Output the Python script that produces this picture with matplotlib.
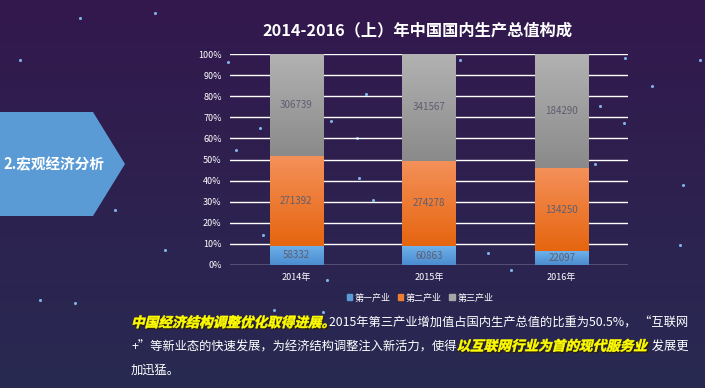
import numpy as np
import matplotlib
matplotlib.use("Agg")
import matplotlib.pyplot as plt
from matplotlib.patches import Polygon, Patch, PathPatch
from matplotlib.textpath import TextPath
from matplotlib.font_manager import FontProperties
from matplotlib.transforms import Affine2D

plt.rcParams['font.family'] = ['Noto Sans CJK SC', 'DejaVu Sans']

# 数据
years = ['2014年', '2015年', '2016年']
primary = [58332, 60863, 22097]
secondary = [271392, 274278, 134250]
tertiary = [306739, 341567, 184290]
series_names = ['第一产业', '第二产业', '第三产业']
ytick_labels = ['0%', '10%', '20%', '30%', '40%', '50%', '60%', '70%', '80%', '90%', '100%']

# 背景上的小星星 (像素位置)
stars = [(80, 18), (155, 13), (228, 62), (236, 150), (260, 128), (263, 235),
         (331, 121), (357, 138), (359, 178), (366, 94), (373, 200), (327, 280),
         (460, 60), (488, 253), (511, 270), (595, 164), (600, 106), (625, 58),
         (624, 123), (652, 86), (683, 185), (680, 245), (700, 60), (274, 310),
         (323, 312), (115, 210), (165, 250), (40, 300), (75, 303), (20, 60)]

W, H = 705, 388
DPI = 100
fig = plt.figure(figsize=(W / DPI, H / DPI), dpi=DPI)

# 渐变背景
bg = fig.add_axes([0, 0, 1, 1], zorder=-10)
top_c = np.array([51, 24, 77]) / 255
bot_c = np.array([40, 42, 82]) / 255
t = np.linspace(0, 1, 256)[:, None]
grad = top_c[None, :] * (1 - t) + bot_c[None, :] * t
bg.imshow(np.repeat(grad[:, None, :], 2, axis=1), aspect='auto', extent=[0, W, H, 0])
xs, ys = zip(*stars)
bg.scatter(xs, ys, s=5, color='#7fb2e5', linewidths=0)
bg.set_xlim(0, W)
bg.set_ylim(H, 0)
bg.axis('off')

# 左侧箭头
arrow = Polygon([(0, 112), (93, 112), (125, 164), (93, 216), (0, 216)],
                closed=True, facecolor='#5b9bd5', edgecolor='none')
bg.add_patch(arrow)
bg.text(3, 164, '2.宏观经济分析', color='white', fontsize=10.5, fontweight='bold',
        va='center', ha='left')

# 标题
bg.text(417, 30, '2014-2016（上）年中国国内生产总值构成', color='white',
        fontsize=11.7, fontweight='bold', ha='center', va='center')

# 图表
ax = fig.add_axes([230 / W, 1 - 265 / H, 398 / W, 211 / H])
ax.set_facecolor('none')
data = np.array([primary, secondary, tertiary], dtype=float)
share = data / data.sum(axis=0)
x = np.arange(len(years))

grads = [('#6fb1ea', '#4a8ccf'), ('#f4915a', '#e6650f'), ('#b2b2b2', '#8a8a8a')]
bottom = np.zeros(len(years))
for i in range(3):
    bars = ax.bar(x, share[i], 0.4, bottom=bottom, color=grads[i][1], zorder=3)
    c1 = np.array(matplotlib.colors.to_rgb(grads[i][0]))
    c2 = np.array(matplotlib.colors.to_rgb(grads[i][1]))
    for j, b in enumerate(bars):
        bb = b.get_bbox()
        g = c1[None, :] * (1 - t) + c2[None, :] * t
        im = ax.imshow(np.repeat(g[:, None, :], 2, axis=1), aspect='auto',
                       extent=[bb.x0, bb.x1, bb.y0, bb.y1], zorder=3.5)
        im.set_clip_path(b)
        ax.text(x[j], bottom[j] + share[i][j] / 2, str(int(data[i][j])),
                ha='center', va='center', fontsize=7, color='#5e5e70', zorder=5)
    bottom += share[i]

ax.set_xlim(-0.5, 2.5)
ax.set_ylim(0, 1)
ax.set_yticks(np.linspace(0, 1, 11))
ax.set_yticklabels(ytick_labels)
ax.set_xticks(x)
ax.set_xticklabels(years)
ax.tick_params(colors='white', labelsize=6.5, length=0, pad=6)
ax.grid(axis='y', color='white', linewidth=1, zorder=0)
for s in ax.spines.values():
    s.set_visible(False)

handles = [Patch(color=c) for c in ['#5b9bd5', '#ed7d31', '#a5a5a5']]
fig.legend(handles, series_names, loc='center', bbox_to_anchor=(420 / W, 1 - 298 / H),
           ncol=3, frameon=False, fontsize=6.5, handlelength=0.6, handleheight=0.6,
           handletextpad=0.3, columnspacing=0.8, labelcolor='white')

# 底部说明文字
renderer = fig.canvas.get_renderer()
yfont = FontProperties(family='Noto Sans CJK SC', weight='bold', size=9.8)


def put_yellow(txt, px, py):
    # 斜体加粗的黄色文字, 带一点阴影
    tp = TextPath((0, 0), txt, prop=yfont)
    base = Affine2D().skew_deg(14, 0).scale(DPI / 72, -DPI / 72)
    bg.add_patch(PathPatch(tp, transform=base + Affine2D().translate(px + 1, py + 1) + bg.transData,
                           facecolor='#2a2010', edgecolor='#2a2010', linewidth=0.8))
    bg.add_patch(PathPatch(tp, transform=base + Affine2D().translate(px, py) + bg.transData,
                           facecolor='#ffff00', edgecolor='#ffff00', linewidth=0.4))
    return tp.get_extents().width * DPI / 72 + 4


def put_white(txt, px, py):
    tx = bg.text(px, py, txt, ha='left', va='baseline', color='white', fontsize=8.85)
    return tx.get_window_extent(renderer).width


lines = [
    [('中国经济结构调整优化取得进展。', 'y'),
     ('2015年第三产业增加值占国内生产总值的比重为50.5%， “互联网', 'w')],
    [('+”等新业态的快速发展，为经济结构调整注入新活力，使得', 'w'),
     ('以互联网行业为首的现代服务业', 'y'), (' 发展更', 'w')],
    [('加迅猛。', 'w')],
]
for k, segs in enumerate(lines):
    px = 131
    py = 327 + k * 23.5
    for txt, kind in segs:
        if kind == 'y':
            px += put_yellow(txt, px, py)
        else:
            px += put_white(txt, px, py)

fig.savefig('out.png', dpi=DPI)
